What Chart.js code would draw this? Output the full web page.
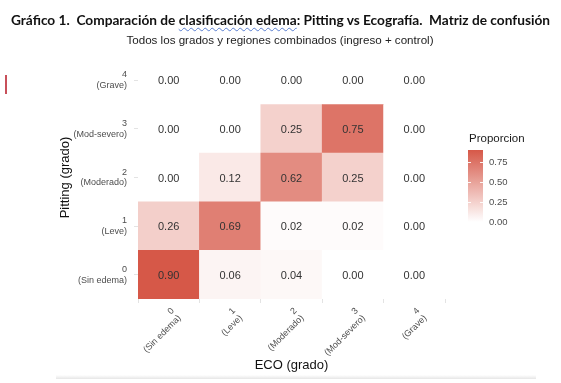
<!DOCTYPE html>
<html>
<head>
<meta charset="utf-8">
<script src="https://cdn.jsdelivr.net/npm/chart.js@4.4.0/dist/chart.umd.min.js"></script>
<style>
  body { margin: 0; background: #fff; width: 561px; height: 383px; overflow: hidden; position: relative; }
  #title { position: absolute; left: 0; top: 11px; width: 561px; text-align: center; font: bold 13.7px Lato, sans-serif; color: #111; white-space: pre; }
  #title .spell { text-decoration: underline wavy #5a7fd0; text-decoration-thickness: 1px; text-underline-offset: 2px; }
  #subtitle { position: absolute; left: 0; top: 33px; width: 560px; text-align: center; font: 11.6px "Liberation Sans", Arial, sans-serif; color: #222; }
  #mark { position: absolute; left: 5px; top: 75px; width: 2px; height: 19px; background: #c8505a; }
  #shade { position: absolute; left: 56px; top: 375px; width: 480px; height: 4px; background: linear-gradient(#fff, #e6e6e6); }
  #wrap { position: absolute; left: 0; top: 0; width: 561px; height: 383px; }
</style>
</head>
<body>
<div id="wrap"><canvas id="heat"></canvas></div>
<div id="title">Gráfico 1.  Comparación de <span class="spell">clasificación edema</span>: Pitting vs Ecografía.  Matriz de confusión</div>
<div id="subtitle">Todos los grados y regiones combinados (ingreso + control)</div>
<div id="mark"></div>
<div id="shade"></div>
<script>
// grades (same for both axes)
const ecoLabels = [['0', '(Sin edema)'], ['1', '(Leve)'], ['2', '(Moderado)'], ['3', '(Mod-severo)'], ['4', '(Grave)']]
const pittingLabels = [['0', '(Sin edema)'], ['1', '(Leve)'], ['2', '(Moderado)'], ['3', '(Mod-severo)'], ['4', '(Grave)']]

// proportion per Pitting row, one value per ECO column
const pitting0 = [0.90, 0.06, 0.04, 0.00, 0.00]
const pitting1 = [0.26, 0.69, 0.02, 0.02, 0.00]
const pitting2 = [0.00, 0.12, 0.62, 0.25, 0.00]
const pitting3 = [0.00, 0.00, 0.25, 0.75, 0.00]
const pitting4 = [0.00, 0.00, 0.00, 0.00, 0.00]
const rows = [pitting0, pitting1, pitting2, pitting3, pitting4]

const legendTicks = [0, 0.25, 0.50, 0.75]
const fillMax = 0.9

const low = [255, 255, 255]
const high = [214, 88, 72]
function fillFor(v) {
    const t = Math.min(v / fillMax, 1)
    const c = low.map((l, i) => Math.round(l + (high[i] - l) * t))
    return `rgb(${c[0]},${c[1]},${c[2]})`
}

// numbers inside the tiles
const cellText = {
    id: 'cellText',
    afterDatasetsDraw(chart) {
        const ctx = chart.ctx
        ctx.save()
        ctx.font = '11px "Liberation Sans", Arial, sans-serif'
        ctx.fillStyle = '#333'
        ctx.textAlign = 'center'
        ctx.textBaseline = 'middle'
        chart.data.datasets.forEach((ds, i) => {
            chart.getDatasetMeta(i).data.forEach((bar, j) => {
                ctx.fillText(ds.values[j].toFixed(2), bar.x, (bar.y + bar.base) / 2 + 1)
            })
        })
        ctx.restore()
    }
}

// colour bar legend on the right
const colorBar = {
    id: 'colorBar',
    afterDraw(chart) {
        const ctx = chart.ctx
        const x = 468, w = 15, yBottom = 222, hgt = 72
        const yOf = v => yBottom - v / fillMax * hgt
        ctx.save()
        const grad = ctx.createLinearGradient(0, yBottom, 0, yBottom - hgt)
        for (let s = 0; s <= 10; s++) grad.addColorStop(s / 10, fillFor(fillMax * s / 10))
        ctx.fillStyle = grad
        ctx.fillRect(x, yBottom - hgt, w, hgt)
        ctx.strokeStyle = 'rgba(255,255,255,0.9)'
        ctx.lineWidth = 1
        ctx.font = '9.5px "Liberation Sans", Arial, sans-serif'
        ctx.fillStyle = '#4d4d4d'
        ctx.textBaseline = 'middle'
        legendTicks.forEach(v => {
            const y = Math.round(yOf(v)) + 0.5
            ctx.beginPath()
            ctx.moveTo(x, y); ctx.lineTo(x + 3, y)
            ctx.moveTo(x + w - 3, y); ctx.lineTo(x + w, y)
            ctx.stroke()
            ctx.fillText(v.toFixed(2), x + 21, y)
        })
        ctx.font = '11.5px "Liberation Sans", Arial, sans-serif'
        ctx.fillStyle = '#1a1a1a'
        ctx.fillText('Proporcion', x + 1, 139)
        ctx.restore()
    }
}

const datasets = rows.map((vals, r) => ({
    label: pittingLabels[r].join(' '),
    values: vals,
    data: vals.map(() => [r, r + 1]),
    backgroundColor: vals.map(fillFor),
    borderWidth: 0,
    grouped: false,
    barPercentage: 1,
    categoryPercentage: 1
}))

new Chart(document.getElementById('heat'), {
    type: 'bar',
    data: { labels: ecoLabels, datasets: datasets },
    options: {
        responsive: true,
        maintainAspectRatio: false,
        animation: false,
        layout: { padding: { top: 56, right: 116, bottom: 0, left: 0 } },
        plugins: { legend: { display: false }, tooltip: { enabled: false } },
        scales: {
            x: {
                type: 'category',
                afterFit: s => { s.height = 84 },
                grid: { drawOnChartArea: false, drawTicks: true, tickLength: 4, tickColor: '#e3e3e3', color: '#e3e3e3' },
                border: { display: false },
                ticks: {
                    maxRotation: 45, minRotation: 45, padding: 3, autoSkip: false, labelOffset: 4,
                    color: '#4d4d4d', font: { family: '"Liberation Sans", Arial, sans-serif', size: 9, lineHeight: 1.1 }
                },
                title: {
                    display: true, text: 'ECO (grado)', color: '#111',
                    font: { family: '"Liberation Sans", Arial, sans-serif', size: 13 },
                    padding: { top: 0, bottom: 10 }
                }
            },
            y: {
                type: 'linear',
                min: 0, max: 5,
                afterFit: s => { s.width = 138 },
                afterBuildTicks: axis => { axis.ticks = pittingLabels.map((l, i) => ({ value: i + 0.5 })) },
                grid: { drawOnChartArea: false, drawTicks: true, tickLength: 4, tickColor: '#e3e3e3' },
                border: { display: false },
                ticks: {
                    padding: 7, autoSkip: false,
                    callback: (v, i) => pittingLabels[i],
                    color: '#4d4d4d', font: { family: '"Liberation Sans", Arial, sans-serif', size: 9, lineHeight: 1.2 }
                },
                title: {
                    display: true, text: 'Pitting (grado)', color: '#111',
                    font: { family: '"Liberation Sans", Arial, sans-serif', size: 13 },
                    padding: { top: 58, bottom: 0 }
                }
            }
        }
    },
    plugins: [cellText, colorBar]
})
</script>
</body>
</html>
